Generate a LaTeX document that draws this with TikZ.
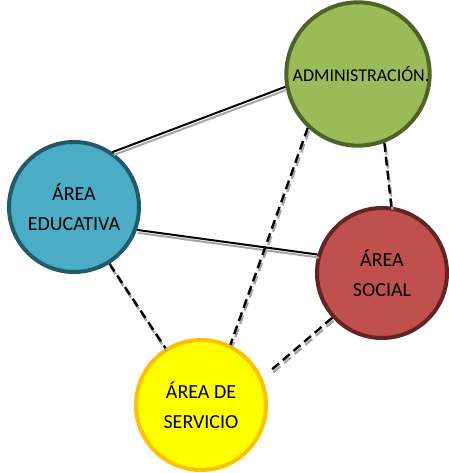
\documentclass[tikz,border=0pt]{standalone}
\usepackage{fontspec}
\setmainfont{Carlito}
\usepackage{xcolor}
\definecolor{AdmGreen} {HTML}{9BBB59}
\definecolor{AdmDark}  {HTML}{4F6228}
\definecolor{EduBlue}  {HTML}{4BACC6}
\definecolor{EduDark}  {HTML}{215A6B}
\definecolor{SocRed}   {HTML}{C0504D}
\definecolor{SocDark}  {HTML}{632523}
\definecolor{SerYellow}{HTML}{FFFF00}
\definecolor{SerDark}  {HTML}{FFC000}
\definecolor{ShadowGray}{HTML}{A6A6A6}
\usetikzlibrary{positioning}

\begin{document}
\begin{tikzpicture}[x=1pt,y=1pt,
  area/.style={circle,line width=4pt,minimum size=130pt,inner sep=0pt,
    align=center,font=\fontsize{20}{30}\selectfont},
  enlace/.style={line width=2pt,black},
  punteado/.style={enlace,line width=2.4pt,dash pattern=on 9pt off 5pt},
  sombra/.style={ShadowGray,transform canvas={xshift=1.2pt,yshift=-3pt}}]
  \useasboundingbox (0,0) rectangle (448,473);
  \node[area,draw=AdmDark,fill=AdmGreen,minimum size=128pt,
    font=\fontsize{18}{20}\selectfont](ADM) at (358,399)
    {\hspace*{6pt}ADMINISTRACIÓN.};
  \node[area,draw=EduDark,fill=EduBlue](EDU) at (74,266)
    {ÁREA\\EDUCATIVA};
  \node[area,draw=SocDark,fill=SocRed](SOC) at (382,200)
    {ÁREA\\SOCIAL};
  \node[area,draw=SerDark,fill=SerYellow](SER) at (201,68)
    {ÁREA DE\\SERVICIO};
  % Lineas continuas
  \draw[enlace,sombra](EDU.55)--(ADM.190);
  \draw[enlace](EDU.55)--(ADM.190);
  \draw[enlace,sombra](EDU.-20)--(SOC.164);
  \draw[enlace](EDU.-20)--(SOC.164);
  % Lineas punteadas
  \draw[punteado,sombra](ADM.227)--(SER.64);
  \draw[punteado](ADM.227)--(SER.64);
  \draw[punteado,sombra](ADM.-69)--(SOC.82);
  \draw[punteado](ADM.-69)--(SOC.82);
  \draw[punteado,sombra](EDU.-58)--(SER.122);
  \draw[punteado](EDU.-58)--(SER.122);
  \draw[punteado,sombra,shorten >=11pt](SOC.222)--(SER.24);
  \draw[punteado,shorten >=11pt](SOC.222)--(SER.24);
\end{tikzpicture}
\end{document}
